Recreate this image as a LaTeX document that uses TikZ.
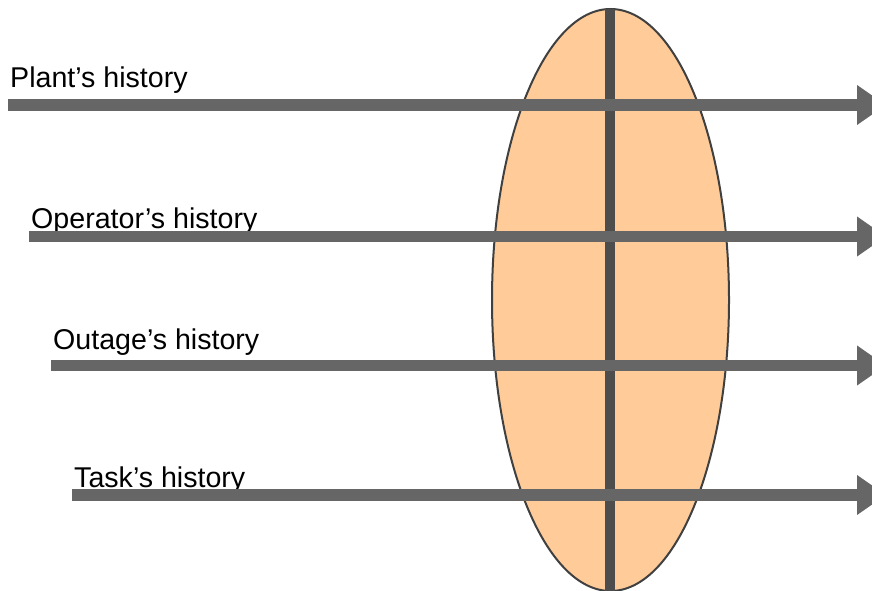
\documentclass[tikz,border=0pt]{standalone}
\usepackage{fontspec}
\setmainfont{Liberation Sans}
\usetikzlibrary{arrows.meta}
\definecolor{lensfill}{HTML}{FFCC99}
\definecolor{lensline}{HTML}{404040}
\definecolor{axisgray}{HTML}{4D4D4D}
\definecolor{arrowgray}{HTML}{666666}
\begin{document}
\begin{tikzpicture}[
    x=1pt, y=-1pt,
    arrow/.style={-{Triangle[length=29pt, width=38pt]}, line width=11.5pt, draw=arrowgray},
    lens/.style={draw=lensline, line width=2pt, fill=lensfill},
    axis/.style={line width=10pt, draw=axisgray},
    lbl/.style={anchor=base west, inner sep=0pt, font=\fontsize{28.6}{34}\selectfont}
]
    \useasboundingbox (0,0) rectangle (872,591);

    %------------------------------------------------
    % lens and its axis
    %------------------------------------------------
    \draw[lens] (610.5,300) ellipse [x radius=118.5, y radius=291];
    \coordinate (axtop) at (610,9);
    \coordinate (axbot) at (610,595);
    \draw[axis] (axtop) -- (axbot);

    %------------------------------------------------
    % histories
    %------------------------------------------------
    \node[lbl] (plant)    at (10,88)  {Plant’s history};
    \node[lbl] (operator) at (31,228) {Operator’s history};
    \node[lbl] (outage)   at (53,349) {Outage’s history};
    \node[lbl] (task)     at (74,487) {Task’s history};

    \coordinate (s1) at (8,105);   \coordinate (e1) at (886,105);
    \coordinate (s2) at (29,236.5); \coordinate (e2) at (886,236.5);
    \coordinate (s3) at (51,365.5); \coordinate (e3) at (886,365.5);
    \coordinate (s4) at (72,495);  \coordinate (e4) at (886,495);

    \draw[arrow] (s1) -- (e1);
    \draw[arrow] (s2) -- (e2);
    \draw[arrow] (s3) -- (e3);
    \draw[arrow] (s4) -- (e4);

\end{tikzpicture}
\end{document}
